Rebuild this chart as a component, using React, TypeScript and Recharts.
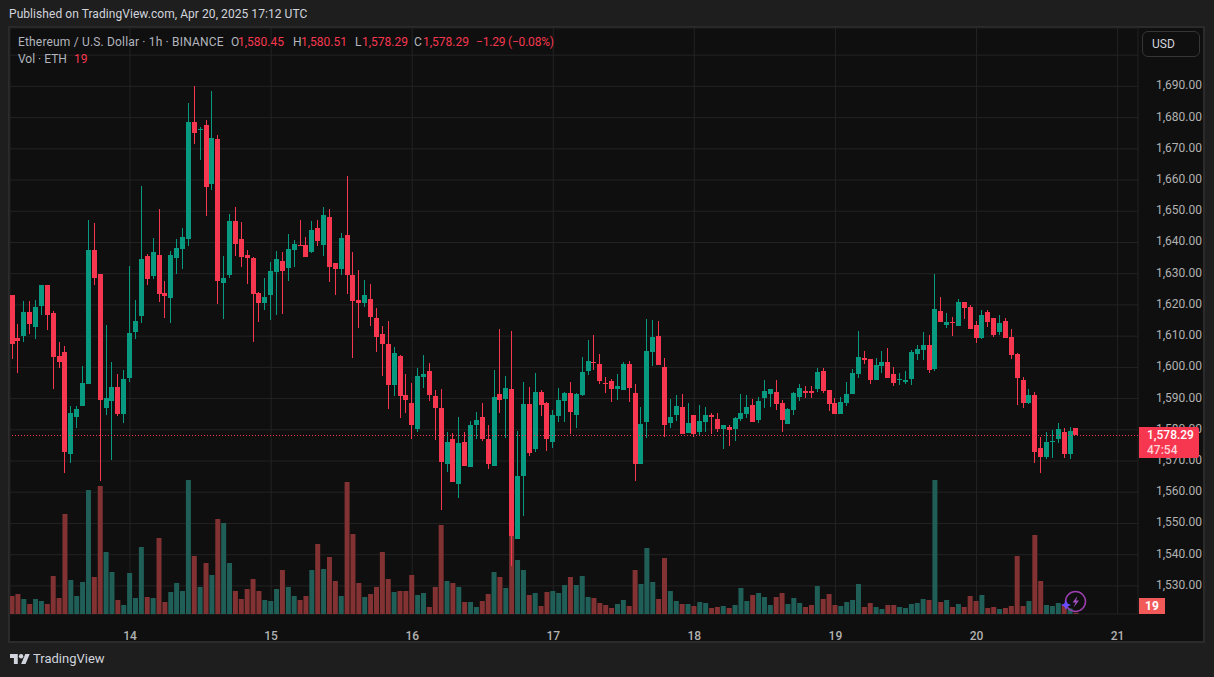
import { Bar, CartesianGrid, Cell, ComposedChart, ReferenceLine, XAxis, YAxis } from "recharts"

// hourly candles, Apr 13 04:00 to Apr 20 17:00 UTC
const opens = [
  1623.2, 1609.4, 1610.1, 1617.8, 1613.0, 1619.7, 1626.4, 1617.4, 1603.7, 1604.9,
  1572.3, 1584.1, 1587.7, 1594.7, 1637.6, 1629.9, 1587.0, 1589.3, 1593.7, 1585.1,
  1596.6, 1611.4, 1616.5, 1635.7, 1629.3, 1636.0, 1623.8, 1622.2, 1635.0, 1637.9,
  1641.1, 1678.6, 1676.0, 1677.6, 1658.7, 1673.1, 1627.0, 1629.6, 1646.9, 1641.1,
  1636.0, 1635.0, 1623.8, 1620.6, 1623.2, 1630.6, 1634.1, 1631.8, 1637.6, 1639.2,
  1639.2, 1636.9, 1644.6, 1639.2, 1648.2, 1633.4, 1631.5, 1642.4, 1629.6, 1621.6,
  1620.6, 1621.9, 1615.8, 1610.7, 1607.5, 1594.4, 1603.6, 1591.2, 1588.6, 1580.3,
  1596.9, 1598.9, 1590.8, 1587.0, 1569.1, 1577.1, 1562.7, 1576.1, 1568.1, 1581.6,
  1584.1, 1577.1, 1568.4, 1591.5, 1589.9, 1593.1, 1545.1, 1565.2, 1588.3, 1573.9,
  1592.1, 1588.6, 1576.1, 1584.4, 1589.2, 1591.8, 1584.8, 1591.2, 1598.8, 1601.7,
  1601.1, 1595.0, 1595.6, 1593.1, 1592.8, 1601.1, 1591.8, 1569.1, 1582.5, 1604.9,
  1610.0, 1600.1, 1582.2, 1584.8, 1587.3, 1579.0, 1584.8, 1579.3, 1582.5, 1584.8,
  1583.5, 1580.3, 1580.9, 1580.3, 1583.5, 1585.1, 1588.0, 1583.1, 1590.2, 1591.5,
  1592.1, 1588.6, 1581.9, 1586.4, 1590.5, 1592.4, 1592.4, 1593.1, 1598.8, 1592.8,
  1588.6, 1585.1, 1588.6, 1591.5, 1597.9, 1603.0, 1602.7, 1596.0, 1600.4, 1601.7,
  1597.9, 1596.0, 1595.3, 1596.3, 1604.3, 1605.6, 1607.2, 1599.5, 1618.1, 1613.6,
  1614.5, 1613.3, 1620.9, 1619.3, 1613.6, 1609.4, 1617.7, 1615.8, 1611.3, 1614.9,
  1609.7, 1604.3, 1596.0, 1588.6, 1591.2, 1574.2, 1571.3, 1576.1, 1577.1, 1579.3,
  1572.3, 1580.45,
]

const closes = [
  1607.5, 1608.5, 1617.8, 1613.9, 1619.4, 1626.4, 1616.8, 1603.3, 1601.7, 1572.9,
  1585.4, 1586.7, 1595.0, 1637.6, 1628.6, 1589.6, 1590.2, 1593.7, 1585.1, 1596.3,
  1611.0, 1614.9, 1634.7, 1628.3, 1637.0, 1623.5, 1622.9, 1636.0, 1638.2, 1641.8,
  1678.6, 1675.1, 1676.3, 1657.8, 1673.5, 1627.7, 1628.6, 1646.9, 1639.5, 1635.4,
  1635.0, 1623.5, 1620.6, 1622.6, 1630.9, 1634.7, 1630.9, 1637.9, 1639.5, 1638.9,
  1635.3, 1644.0, 1640.5, 1648.8, 1632.1, 1631.5, 1641.4, 1629.6, 1621.3, 1620.6,
  1623.2, 1616.1, 1609.7, 1607.5, 1594.4, 1604.6, 1590.8, 1589.6, 1581.6, 1597.2,
  1597.9, 1591.2, 1587.0, 1569.7, 1576.1, 1563.3, 1575.8, 1568.4, 1581.6, 1583.2,
  1577.1, 1569.1, 1590.5, 1589.6, 1593.4, 1546.0, 1565.2, 1588.3, 1572.6, 1592.1,
  1588.0, 1577.1, 1584.8, 1589.6, 1591.8, 1585.7, 1591.5, 1598.5, 1602.0, 1601.4,
  1595.6, 1594.7, 1593.1, 1594.0, 1601.1, 1593.4, 1569.1, 1581.9, 1605.2, 1609.7,
  1600.8, 1581.6, 1584.1, 1587.6, 1578.7, 1582.2, 1578.7, 1582.8, 1584.8, 1584.1,
  1580.3, 1581.6, 1580.0, 1583.8, 1585.4, 1587.3, 1582.5, 1589.2, 1592.4, 1593.1,
  1588.3, 1583.1, 1586.7, 1591.8, 1593.4, 1591.8, 1591.8, 1598.5, 1592.4, 1588.3,
  1585.1, 1588.9, 1591.5, 1598.2, 1603.3, 1602.4, 1596.0, 1600.8, 1601.7, 1596.6,
  1595.0, 1596.3, 1596.0, 1604.9, 1605.9, 1607.2, 1599.2, 1618.7, 1614.5, 1614.5,
  1614.2, 1620.9, 1619.0, 1612.3, 1609.4, 1616.8, 1614.5, 1610.4, 1614.2, 1609.4,
  1604.0, 1596.6, 1588.6, 1591.2, 1572.9, 1571.3, 1576.1, 1576.4, 1580.3, 1572.3,
  1579.58, 1578.29,
]

const highs = [
  1623.2, 1613.8, 1621.3, 1621.3, 1621.6, 1626.4, 1626.4, 1618.1, 1608.1, 1606.9,
  1587.7, 1587.7, 1600.5, 1647.2, 1646.3, 1629.9, 1613.6, 1601.7, 1597.9, 1599.2,
  1632.5, 1621.6, 1658.1, 1636.3, 1641.4, 1650.7, 1627.7, 1637.3, 1641.1, 1644.6,
  1684.7, 1690.1, 1677.0, 1679.2, 1688.5, 1674.4, 1635.7, 1649.1, 1651.4, 1646.6,
  1637.6, 1635.4, 1624.2, 1628.6, 1633.8, 1637.3, 1636.9, 1642.7, 1640.8, 1647.2,
  1641.8, 1646.9, 1647.2, 1651.4, 1650.7, 1633.4, 1643.0, 1661.3, 1636.9, 1631.2,
  1628.0, 1626.7, 1619.0, 1613.3, 1614.9, 1606.5, 1604.0, 1597.9, 1595.0, 1599.8,
  1604.0, 1601.4, 1592.8, 1593.1, 1579.3, 1579.0, 1584.1, 1579.3, 1582.8, 1585.7,
  1588.6, 1581.6, 1599.2, 1612.3, 1597.2, 1611.7, 1579.6, 1595.3, 1593.7, 1598.2,
  1592.8, 1588.9, 1586.4, 1593.4, 1592.1, 1595.3, 1591.8, 1603.3, 1608.8, 1610.4,
  1604.3, 1596.9, 1596.3, 1597.9, 1601.7, 1602.0, 1594.7, 1587.3, 1615.5, 1615.2,
  1614.9, 1603.0, 1589.9, 1591.2, 1591.5, 1588.6, 1584.8, 1588.0, 1587.3, 1585.4,
  1585.4, 1581.6, 1581.6, 1584.1, 1591.5, 1591.2, 1589.9, 1590.5, 1596.0, 1593.1,
  1596.0, 1589.6, 1587.0, 1592.1, 1594.7, 1594.0, 1594.0, 1599.8, 1599.8, 1592.8,
  1590.2, 1590.5, 1595.3, 1599.5, 1611.7, 1605.2, 1602.7, 1603.0, 1605.2, 1606.2,
  1600.1, 1598.2, 1598.8, 1605.6, 1607.2, 1611.3, 1610.4, 1629.9, 1622.5, 1617.4,
  1616.1, 1621.9, 1620.9, 1620.0, 1614.9, 1618.4, 1618.4, 1615.8, 1616.8, 1615.8,
  1612.3, 1604.6, 1596.9, 1593.1, 1592.1, 1577.7, 1579.3, 1580.0, 1582.2, 1580.6,
  1580.9, 1580.51,
]

const lows = [
  1602.7, 1598.2, 1608.1, 1610.7, 1609.1, 1616.8, 1612.0, 1593.1, 1599.8, 1566.2,
  1569.4, 1580.6, 1587.7, 1594.7, 1626.4, 1563.7, 1584.8, 1570.4, 1584.5, 1582.2,
  1595.3, 1609.1, 1614.2, 1626.4, 1628.3, 1621.0, 1615.8, 1614.2, 1629.9, 1631.5,
  1638.9, 1671.5, 1666.4, 1648.5, 1656.8, 1620.3, 1615.5, 1628.6, 1635.7, 1632.2,
  1626.7, 1608.1, 1614.6, 1618.4, 1615.2, 1616.8, 1617.1, 1627.7, 1632.1, 1638.9,
  1635.3, 1636.6, 1638.9, 1635.7, 1627.3, 1623.2, 1629.6, 1623.5, 1603.0, 1612.6,
  1619.3, 1613.3, 1604.9, 1597.2, 1586.7, 1590.8, 1583.8, 1585.4, 1577.1, 1579.3,
  1593.4, 1589.2, 1576.8, 1554.3, 1566.5, 1563.3, 1558.2, 1568.4, 1568.1, 1577.1,
  1576.4, 1567.5, 1568.4, 1585.4, 1577.4, 1536.4, 1545.1, 1552.4, 1571.6, 1572.9,
  1584.4, 1573.2, 1574.2, 1582.5, 1582.5, 1578.7, 1580.6, 1590.8, 1597.6, 1599.2,
  1594.7, 1591.8, 1588.9, 1589.6, 1592.8, 1588.9, 1563.6, 1569.1, 1577.4, 1600.4,
  1600.8, 1577.7, 1580.6, 1582.8, 1578.7, 1579.0, 1577.7, 1578.4, 1579.3, 1578.7,
  1579.3, 1573.9, 1574.8, 1576.4, 1582.8, 1583.8, 1582.5, 1582.2, 1587.0, 1587.3,
  1586.4, 1579.3, 1581.9, 1584.8, 1589.2, 1590.2, 1590.2, 1592.1, 1591.8, 1586.0,
  1585.1, 1585.1, 1587.6, 1591.5, 1596.6, 1601.1, 1594.7, 1596.0, 1598.2, 1596.6,
  1594.0, 1594.4, 1594.7, 1594.4, 1602.4, 1602.4, 1598.2, 1598.8, 1614.5, 1612.6,
  1610.1, 1613.3, 1615.5, 1612.3, 1607.8, 1609.1, 1612.9, 1609.7, 1610.4, 1609.4,
  1602.7, 1588.0, 1587.0, 1588.3, 1569.4, 1566.2, 1570.7, 1571.0, 1575.8, 1571.0,
  1570.7, 1578.29,
]

const volumes = [
  270, 300, 225, 150, 225, 195, 150, 570, 240, 1500,
  510, 270, 480, 1860, 555, 1920, 930, 630, 210, 135,
  615, 240, 1005, 255, 240, 1140, 180, 330, 465, 345,
  2010, 870, 405, 765, 585, 1425, 1365, 765, 345, 225,
  375, 525, 345, 210, 195, 375, 660, 405, 270, 210,
  270, 660, 1050, 675, 855, 495, 270, 1980, 1200, 465,
  255, 300, 405, 930, 525, 330, 345, 345, 585, 285,
  315, 105, 405, 1335, 495, 465, 405, 180, 180, 105,
  195, 300, 630, 555, 390, 1170, 810, 660, 285, 315,
  120, 330, 345, 315, 435, 555, 435, 570, 255, 240,
  165, 135, 90, 150, 210, 120, 660, 450, 990, 480,
  225, 840, 345, 195, 150, 150, 120, 180, 165, 90,
  105, 120, 90, 135, 390, 195, 285, 315, 255, 135,
  255, 315, 150, 240, 165, 105, 135, 420, 225, 300,
  135, 120, 180, 210, 450, 105, 165, 105, 75, 135,
  135, 105, 90, 150, 165, 225, 210, 2010, 180, 210,
  105, 150, 105, 270, 195, 285, 90, 105, 75, 90,
  120, 870, 120, 195, 1185, 495, 135, 120, 165, 135,
  85, 19,
]

const priceTicks = [1530, 1540, 1550, 1560, 1570, 1580, 1590, 1600, 1610, 1620, 1630, 1640, 1650, 1660, 1670, 1680, 1690, 1700]
const dayTicks = [20, 44, 68, 92, 116, 140, 164, 188]
const dayLabels = ["14", "15", "16", "17", "18", "19", "20", "21"]
const lastPrice = 1578.29

const UP = "#089981"
const DOWN = "#f7374f"
const UP_VOL = "#1f5f58"
const DOWN_VOL = "#823232"
const GRID = "#232323"
const FONT = "Roboto, sans-serif"

const candles = opens.map((open, i) => ({
  idx: i,
  open,
  close: closes[i],
  high: highs[i],
  low: lows[i],
  range: [lows[i], highs[i]],
  volume: volumes[i],
}))

const Candle = ({ x, y, width, height, payload }: any) => {
  if (!payload) return null
  const k = height / (payload.high - payload.low)
  const top = y + (payload.high - Math.max(payload.open, payload.close)) * k
  const bodyH = Math.max(Math.abs(payload.open - payload.close) * k, 1)
  const color = payload.close >= payload.open ? UP : DOWN
  const left = Math.round(x)
  return (
    <g shapeRendering="crispEdges">
      <rect x={left + 2} y={y} width={1} height={height} fill={color} />
      <rect x={left} y={top} width={5} height={bodyH} fill={color} />
    </g>
  )
}

const PriceTick = ({ x, y, payload }: any) => {
  if (payload.value === 1700) return null
  return (
    <text x={x + 10} y={y + 3} fill="#b2b2b2" fontSize={12} fontFamily={FONT}>
      {payload.value.toLocaleString("en-US", { minimumFractionDigits: 2 })}
    </text>
  )
}

const DayTick = ({ x, y, payload }: any) => (
  <text x={x} y={y + 18} fill="#b2b2b2" fontSize={12} fontWeight={500} fontFamily={FONT} textAnchor="middle">
    {dayLabels[dayTicks.indexOf(payload.value)]}
  </text>
)

const abs = (left: number, top: number, extra: any = {}) => ({ position: "absolute", left, top, whiteSpace: "nowrap", ...extra }) as any

export default function App() {
  const legend = { fontFamily: FONT, fontSize: 12, lineHeight: "14px", color: "#b2b5be" }
  const red = { ...legend, color: DOWN }
  return (
    <div style={abs(0, 0, { width: 1214, height: 677, background: "#1e1e1e", overflow: "hidden" })}>
      <div style={abs(9, 7, { fontFamily: FONT, fontSize: 12, lineHeight: "14px", color: "#d1d4dc", letterSpacing: 0.06 })}>
        Published on TradingView.com, Apr 20, 2025 17:12 UTC
      </div>
      <div style={abs(8, 26, { width: 1197, height: 617, boxSizing: "border-box", border: "2px solid #2b2b2b", background: "#0f0f0f" })} />

      <div style={abs(0, 0)}>
        <ComposedChart width={1214} height={677} data={candles} margin={{ top: 28, right: 10, bottom: 35, left: 10 }}>
          <CartesianGrid stroke={GRID} />
          <XAxis
            dataKey="idx"
            type="number"
            domain={[-0.425, 191.48]}
            allowDataOverflow
            ticks={dayTicks}
            height={28}
            axisLine={false}
            tickLine={false}
            tick={DayTick}
          />
          <XAxis xAxisId="vol" dataKey="idx" type="number" domain={[-0.425, 191.48]} allowDataOverflow hide />
          <YAxis
            orientation="right"
            width={66}
            domain={[1521, 1708.7]}
            allowDataOverflow
            ticks={priceTicks}
            interval={0}
            axisLine={false}
            tickLine={false}
            tick={PriceTick}
          />
          <YAxis yAxisId="vol" domain={[0, 8790]} allowDataOverflow hide />
          <ReferenceLine y={lastPrice} stroke={DOWN} strokeDasharray="1 2" shapeRendering="crispEdges" />
          <Bar xAxisId="vol" yAxisId="vol" dataKey="volume" barSize={5} isAnimationActive={false}>
            {candles.map((c, i) => (
              <Cell key={`vol-${i}`} fill={c.close >= c.open ? UP_VOL : DOWN_VOL} />
            ))}
          </Bar>
          <Bar dataKey="range" barSize={5} shape={Candle} isAnimationActive={false} />
        </ComposedChart>
      </div>

      {/* legend */}
      <div style={abs(18, 35, { ...legend, letterSpacing: 0.17 })}>Ethereum / U.S. Dollar · 1h · BINANCE</div>
      <div style={abs(231, 35, legend)}>O</div>
      <div style={abs(238, 35, red)}>1,580.45</div>
      <div style={abs(293, 35, legend)}>H</div>
      <div style={abs(301, 35, red)}>1,580.51</div>
      <div style={abs(355, 35, legend)}>L</div>
      <div style={abs(362, 35, red)}>1,578.29</div>
      <div style={abs(414, 35, legend)}>C</div>
      <div style={abs(423, 35, red)}>1,578.29</div>
      <div style={abs(476, 35, { ...red, letterSpacing: -0.2 })}>−1.29 (−0.08%)</div>
      <div style={abs(18, 52, legend)}>Vol · ETH</div>
      <div style={abs(74, 52, red)}>19</div>

      <div style={abs(1142, 31, { width: 58, height: 26, boxSizing: "border-box", border: "1px solid #363636", borderRadius: 6, background: "#0f0f0f", color: "#d1d4dc", fontFamily: FONT, fontSize: 12, lineHeight: "24px", paddingLeft: 9 })}>
        USD
      </div>

      <div style={abs(1139, 427, { width: 60, height: 31, background: DOWN, borderRadius: "0 2px 2px 0", fontFamily: FONT, fontSize: 12, fontWeight: 500, lineHeight: "15px", paddingLeft: 8, boxSizing: "border-box", paddingTop: 1, color: "#fff" })}>
        <div>1,578.29</div>
        <div style={{ color: "#ffd3d8" }}>47:54</div>
      </div>

      <div style={abs(1139, 598, { width: 26, height: 16, background: "#f25a5a", color: "#fff", fontFamily: FONT, fontSize: 12, fontWeight: 700, lineHeight: "16px", textAlign: "center" })}>
        19
      </div>

      <svg style={abs(1058, 588)} width={32} height={28}>
        <circle cx={17.5} cy={13.5} r={10} fill="none" stroke="#9c3fb0" strokeWidth={1.5} />
        <path d="M19.5 8 L14.5 14.5 L17.5 14.5 L15.5 19.5 L21 12.5 L18 12.5 Z" fill="#a550c0" />
        <path d="M8 12 L9.6 15.4 L13 17 L9.6 18.6 L8 22 L6.4 18.6 L3 17 L6.4 15.4 Z" fill="#6a4cff" />
      </svg>

      {/* footer logo */}
      <svg style={abs(10, 654)} width={20} height={10} viewBox="0 4 36 18">
        <path d="M14 22H7V11H0V4h14v18zM28 22h-8l7.5-18h8L28 22z" fill="#d1d4dc" />
        <circle cx={20} cy={8} r={4} fill="#d1d4dc" />
      </svg>
      <div style={abs(33, 651, { fontFamily: FONT, fontSize: 13, lineHeight: "16px", color: "#d1d4dc" })}>TradingView</div>
    </div>
  )
}
